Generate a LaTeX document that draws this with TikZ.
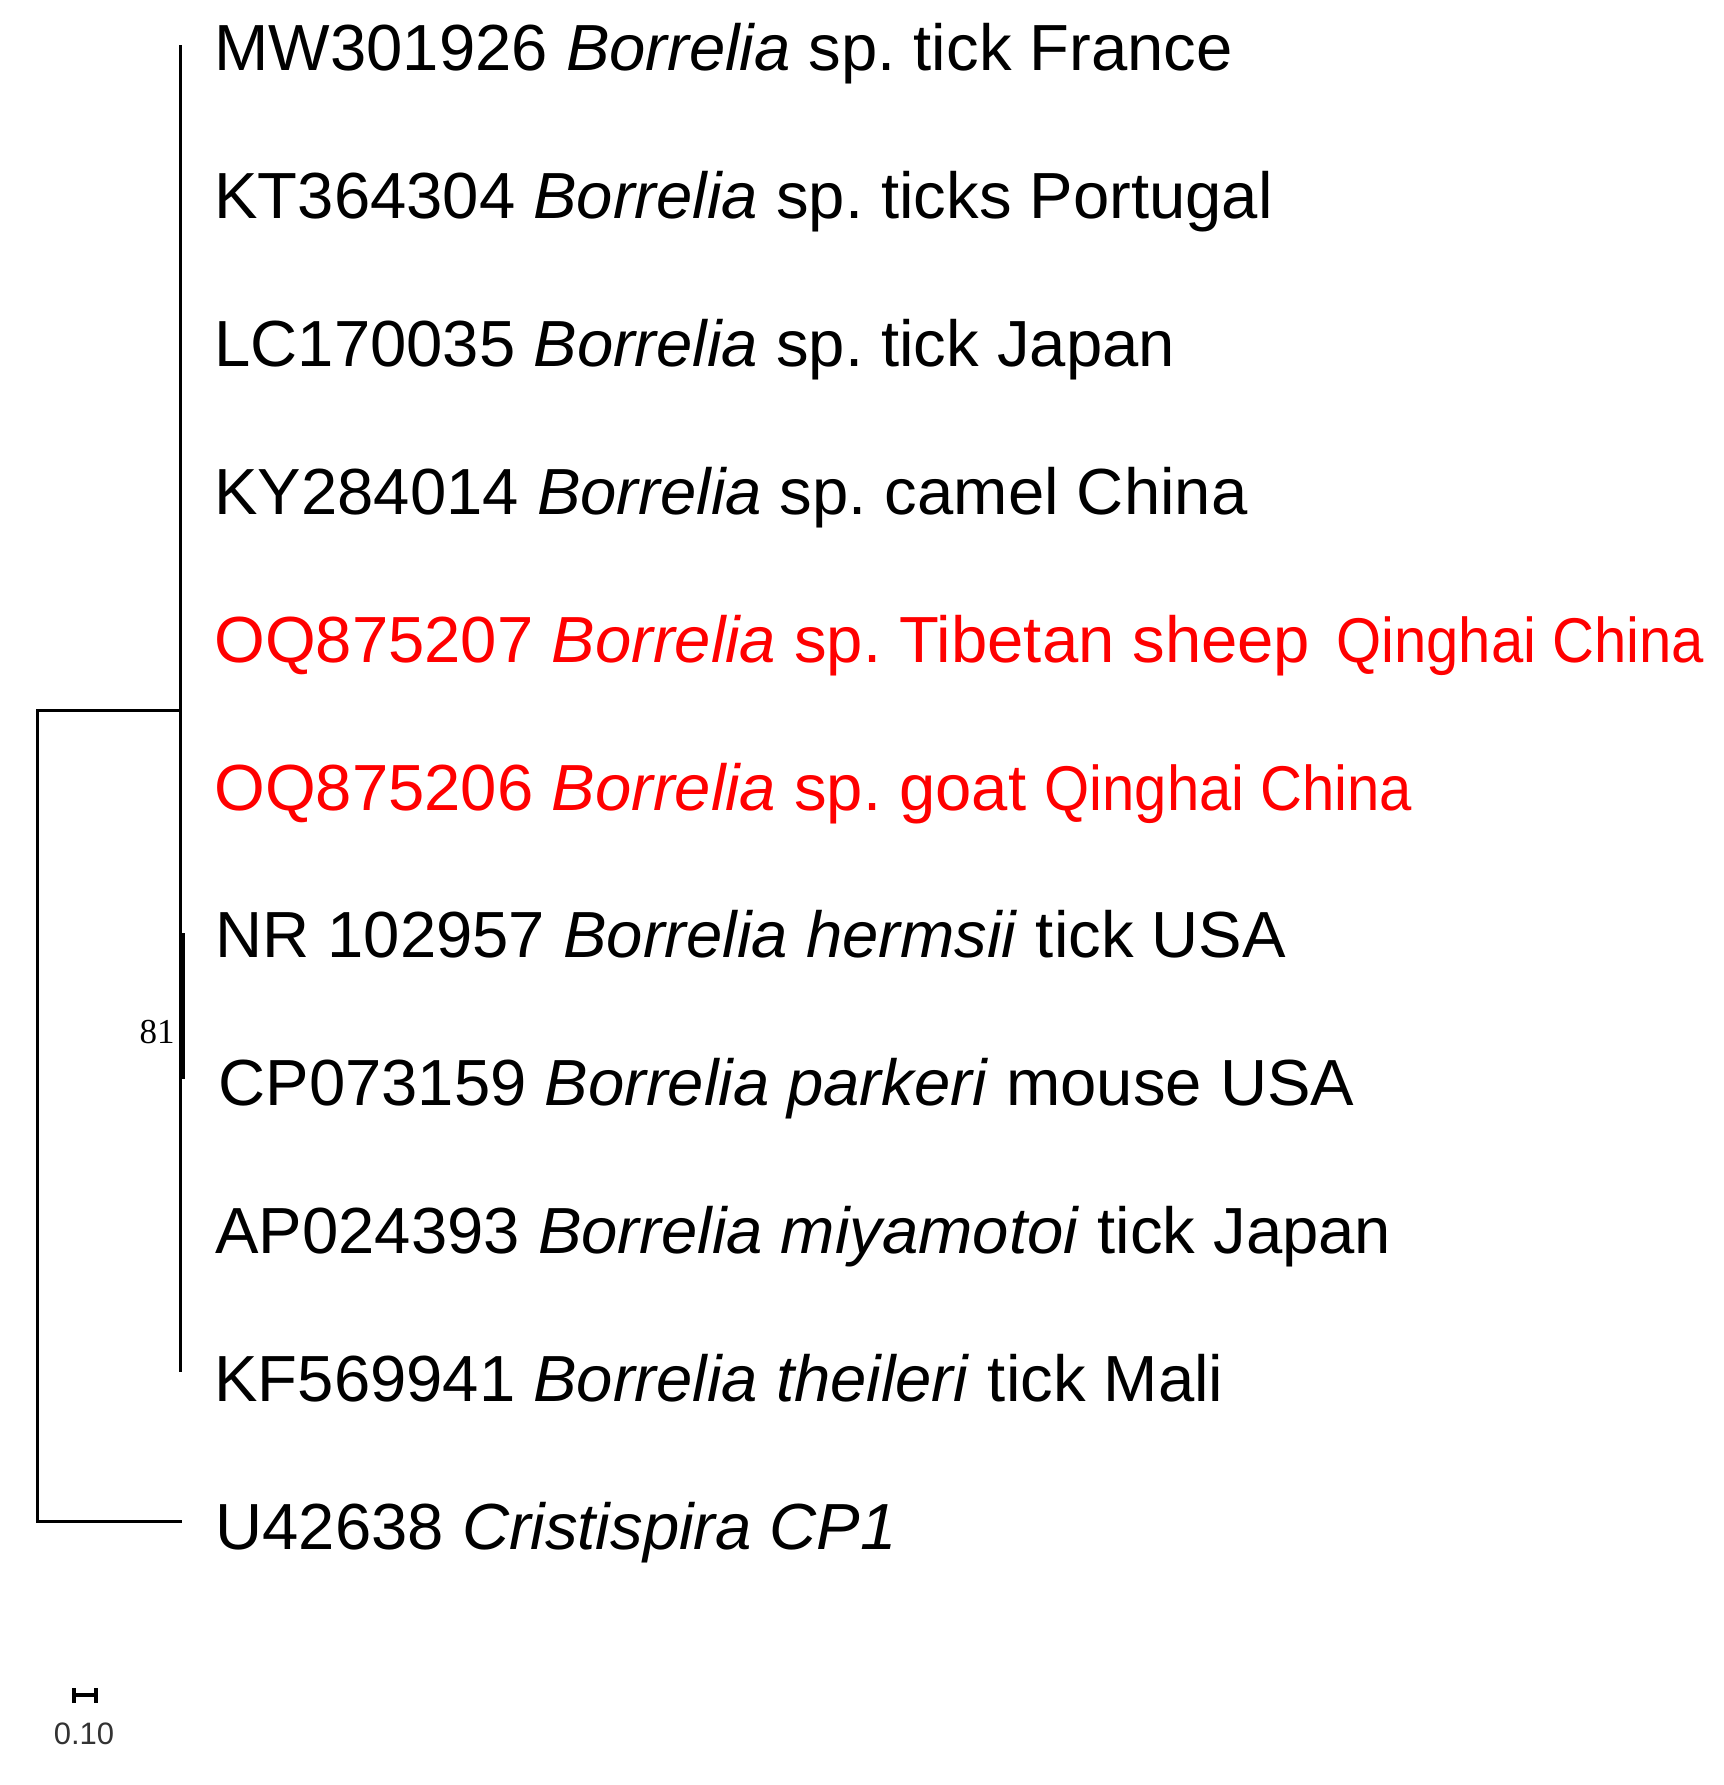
\documentclass[tikz,border=0pt]{standalone}
\usepackage{fontspec}
\setmainfont{Liberation Sans}
\newfontfamily\bootfont{Liberation Serif}
\usepackage{tikz}
\usetikzlibrary{positioning}
\definecolor{newseq}{RGB}{255,0,0}
\newcommand{\narrowplace}[1]{\scalebox{0.89}[0.97]{#1}}
\frenchspacing

\begin{document}
\begin{tikzpicture}[x=0.5pt, y=-0.5pt, line width=1.5pt,
    taxon/.style={anchor=base west, inner sep=0pt, font=\fontsize{32.6}{38}\selectfont},
    newtaxon/.style={taxon, text=newseq},
    boot/.style={anchor=east, inner sep=0pt, font=\bootfont\fontsize{17.5}{20}\selectfont},
    scalelabel/.style={anchor=center, inner sep=0pt, text=black!80, font=\fontsize{15.5}{18}\selectfont}]
    \useasboundingbox (0,0) rectangle (1724,1785);
    \path
        node (mw) at (213,70)     [taxon] { MW301926 \emph{Borrelia} sp. tick France }
        node (kt) at (213,218)    [taxon] { KT364304 \emph{Borrelia} sp. ticks Portugal }
        node (lc) at (213,366)    [taxon] { LC170035 \emph{Borrelia} sp. tick Japan }
        node (ky) at (213,514)    [taxon] { KY284014 \emph{Borrelia} sp. camel China }
        node (oqa) at (213,662)   [newtaxon] { OQ875207 \emph{Borrelia} sp. Tibetan sheep\hspace{4pt} \narrowplace{Qinghai China} }
        node (oqb) at (213,810)   [newtaxon] { OQ875206 \emph{Borrelia} sp. goat \narrowplace{Qinghai China} }
        node (nr) at (214,957)    [taxon] { NR 102957 \emph{Borrelia hermsii} tick USA }
        node (cp) at (217,1105)   [taxon] { CP073159 \emph{Borrelia parkeri} mouse USA }
        node (ap) at (214,1253)   [taxon] { AP024393 \emph{Borrelia miyamotoi} tick Japan }
        node (kf) at (213,1401)   [taxon] { KF569941 \emph{Borrelia theileri} tick Mali }
        node (u) at (214,1549)    [taxon] { U42638 \emph{Cristispira CP1} };
    % internal nodes of the tree
    \coordinate (ingtop) at (180,45);
    \coordinate (ingbot) at (180,1372);
    \coordinate (ing) at (180,710);
    \coordinate (root) at (37,710);
    \coordinate (rootlow) at (37,1521);
    \coordinate (outtip) at (182,1521);
    \coordinate (cladetop) at (182,933);
    \coordinate (cladebot) at (182,1079);
    \draw (ingtop) -- (ingbot);
    \draw (ing) -- (root) -- (rootlow) -- (outtip);
    \draw[line width=2.5pt] (cladetop) -- (cladebot);
    \node (bs) at (176,1032) [boot] {81};
    % scale bar
    \coordinate (sbl) at (74,1695);
    \coordinate (sbr) at (96,1695);
    \draw[line width=2pt] (sbl) -- (sbr)
        ([yshift=-3.75pt]sbl) -- ([yshift=3.75pt]sbl)
        ([yshift=-3.75pt]sbr) -- ([yshift=3.75pt]sbr);
    \node (sb) at (84,1734) [scalelabel] {0.10};
    %\draw (0,0) rectangle (1724,1785);
\end{tikzpicture}
\end{document}
